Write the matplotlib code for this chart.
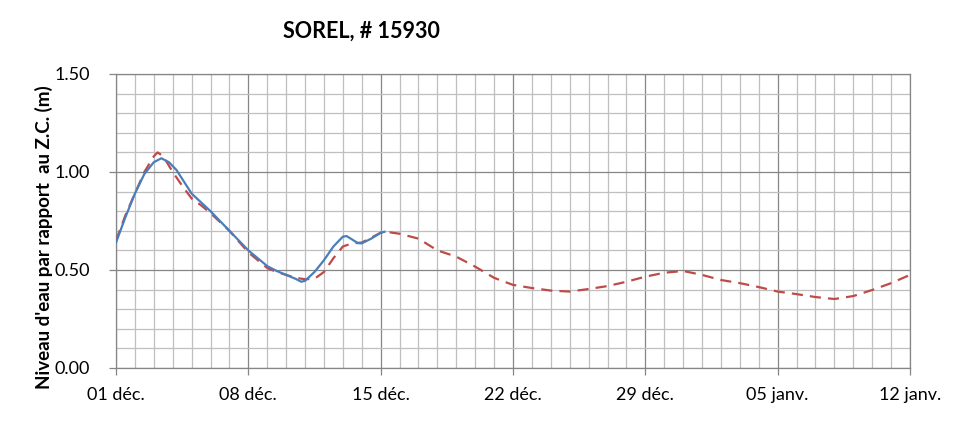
import matplotlib
matplotlib.use("Agg")
import matplotlib.pyplot as plt
import numpy as np

plt.rcParams['font.family'] = ['Lato', 'DejaVu Sans']

# Observed water level (days since 01 déc)
obs_days = [0, 0.5, 1, 1.5, 2, 2.4, 2.8, 3.2, 3.6, 4, 4.5, 5, 5.5, 6, 6.5, 7, 7.5, 8,
            8.5, 9, 9.5, 9.8, 10, 10.5, 11, 11.5, 12, 12.2, 12.5, 12.8, 13, 13.5, 14, 14.2]
obs_vals = [0.64, 0.77, 0.89, 0.99, 1.05, 1.07, 1.05, 1.01, 0.95, 0.89, 0.845, 0.80, 0.75,
            0.70, 0.65, 0.60, 0.56, 0.52, 0.495, 0.475, 0.455, 0.44, 0.445, 0.49, 0.55,
            0.62, 0.67, 0.673, 0.655, 0.637, 0.636, 0.66, 0.69, 0.695]

# Forecast water level
fc_days = [0, 0.5, 1, 1.5, 2, 2.2, 2.5, 3, 3.5, 4, 4.5, 5, 5.5, 6, 6.5, 7, 7.5, 8, 8.5,
           9, 9.5, 10, 10.5, 11, 11.5, 12, 12.5, 13, 13.5, 14, 14.5, 15, 16, 17, 18, 19,
           20, 21, 22, 23, 24, 25, 26, 27, 28, 29, 30, 31, 32, 33, 34, 35, 36, 37, 38,
           39, 40, 41, 42]
fc_vals = [0.65, 0.78, 0.89, 1.00, 1.08, 1.10, 1.08, 1.00, 0.93, 0.865, 0.83, 0.79, 0.745,
           0.70, 0.645, 0.59, 0.55, 0.51, 0.49, 0.475, 0.46, 0.453, 0.455, 0.49, 0.56,
           0.62, 0.636, 0.64, 0.665, 0.69, 0.692, 0.685, 0.66, 0.60, 0.568, 0.517, 0.46,
           0.424, 0.408, 0.395, 0.39, 0.403, 0.418, 0.44, 0.466, 0.486, 0.495, 0.475,
           0.449, 0.433, 0.413, 0.39, 0.377, 0.362, 0.352, 0.367, 0.398, 0.433, 0.475]

x_tick_pos = [0, 7, 14, 21, 28, 35, 42]
x_tick_labels = ["01 déc.", "08 déc.", "15 déc.", "22 déc.", "29 déc.", "05 janv.", "12 janv."]
y_ticks = [0.0, 0.5, 1.0, 1.5]

fig = plt.figure(figsize=(9.71, 4.21), dpi=100)
ax = fig.add_axes([116/971, 1-368/421, (910-116)/971, (368-74)/421])

minor_c = '#BFBFBF'
major_c = '#868686'

ax.set_xlim(0, 42)
ax.set_ylim(0, 1.5)
ax.set_xticks(x_tick_pos)
ax.set_xticklabels(x_tick_labels)
ax.set_xticks(np.arange(0, 43, 1), minor=True)
ax.set_yticks(y_ticks)
ax.set_yticklabels([f"{v:.2f}" for v in y_ticks])
ax.set_yticks(np.arange(0, 1.51, 0.1), minor=True)

ax.grid(which='minor', color=minor_c, linewidth=0.9)
ax.grid(which='major', color=major_c, linewidth=0.9)
ax.set_axisbelow(True)

ax.tick_params(axis='both', which='major', length=5, width=0.9, color=major_c,
               labelsize=13, direction='out')
ax.tick_params(axis='both', which='minor', length=0)
ax.tick_params(axis='x', pad=9)
ax.tick_params(axis='y', pad=14)
for s in ax.spines.values():
    s.set_color(major_c)
    s.set_linewidth(0.9)

ax.plot(fc_days, fc_vals, color='#BE4B48', linewidth=1.6, linestyle=(0, (5, 3.2)),
        zorder=3)
ax.plot(obs_days, obs_vals, color='#4A7EBB', linewidth=1.6, zorder=4)

fig.text(361/971, 1-31/421, "SOREL, # 15930", ha='center', va='center',
         fontsize=15.5, fontweight='bold')
fig.text(44/971, 1-237/421, "Niveau d'eau par rapport  au Z.C. (m)", rotation=90,
         ha='center', va='center', fontsize=13.5, fontweight='bold')

fig.savefig("out.png", dpi=100)
